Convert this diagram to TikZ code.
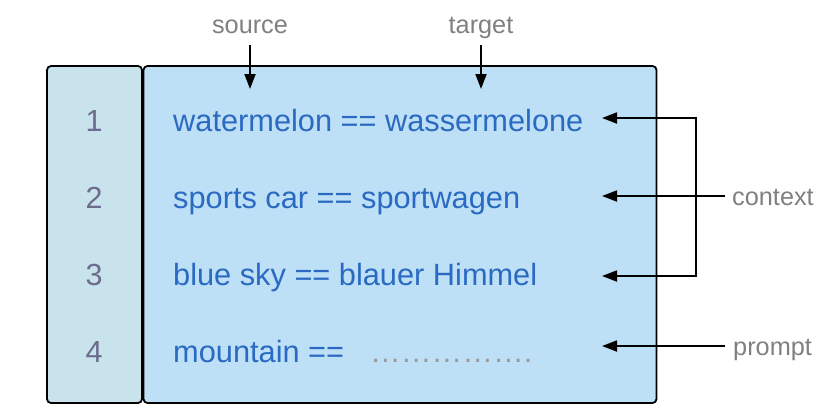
\documentclass[tikz,border=0pt]{standalone}
\usepackage{fontspec}
\setmainfont{Liberation Sans}
\usetikzlibrary{arrows.meta}
\definecolor{leftfill}{HTML}{C8E3EB}
\definecolor{mainfill}{HTML}{BEE0F6}
\definecolor{txtblue}{HTML}{2A6AC2}
\definecolor{numgray}{HTML}{6C6C8E}
\definecolor{lblgray}{HTML}{808080}
\definecolor{dotgray}{HTML}{9A9A9A}
\begin{document}
\begin{tikzpicture}[x=1pt,y=-1pt,
  arr/.style={line width=1.8pt,-{Triangle[length=15pt,width=11pt]}},
  box/.style={draw=black,line width=1.8pt,rounded corners=4pt,inner sep=0,outer sep=0,anchor=north west},
  txt/.style={anchor=base west,inner sep=0,text=txtblue,font=\fontsize{30.75}{36}\selectfont},
  num/.style={anchor=base,inner sep=0,text=numgray,font=\fontsize{30.5}{36}\selectfont},
  lbl/.style={inner sep=0,text=lblgray,font=\fontsize{25.3}{30}\selectfont}]
\useasboundingbox (0,0) rectangle (830,408);
\node[box,fill=leftfill,minimum width=95pt,minimum height=337pt] (lb) at (47,66) {};
\node[box,fill=mainfill,minimum width=513pt,minimum height=337pt] (mb) at (143.5,66) {};
\node[num] (n1) at (94,131) {1};
\node[num] (n2) at (94,208) {2};
\node[num] (n3) at (94,285) {3};
\node[num] (n4) at (94,362) {4};
\node[txt] (r1) at (173,131) {watermelon == wassermelone};
\node[txt] (r2) at (173,208) {sports car == sportwagen};
\node[txt] (r3) at (173,285) {blue sky == blauer Himmel};
\node[txt] (r4) at (173,362) {mountain ==};
\node[txt,text=dotgray] (dots) at (370,362) {…………….};
\node[lbl,anchor=base] (src) at (250,33) {source};
\node[lbl,anchor=base] (tgt) at (481,33) {target};
\node[lbl,anchor=base west] (ctx) at (732,205) {context};
\node[lbl,anchor=base west] (prm) at (733,355) {prompt};
\coordinate (s0) at (250,45);
\coordinate (s1) at (250,89);
\coordinate (g0) at (481,45);
\coordinate (g1) at (481,89);
\coordinate (t1) at (602,118);
\coordinate (t2) at (602,196);
\coordinate (t3) at (602,276);
\coordinate (t4) at (602,346);
\coordinate (b1) at (696,118);
\coordinate (b3) at (696,276);
\coordinate (c0) at (725,196);
\coordinate (p0) at (725,346);
\draw[arr] (s0) -- (s1);
\draw[arr] (g0) -- (g1);
\draw[arr] (b3) -- (b1) -- (t1);
\draw[arr] (b1) -- (b3) -- (t3);
\draw[arr] (c0) -- (t2);
\draw[arr] (p0) -- (t4);
\end{tikzpicture}
\end{document}
